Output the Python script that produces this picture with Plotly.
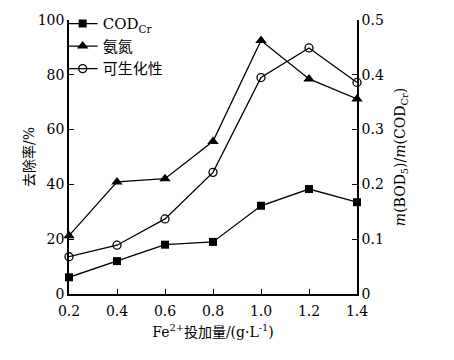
import plotly.graph_objects as go

x_dose = [0.2, 0.4, 0.6, 0.8, 1.0, 1.2, 1.4]
cod_removal = [6.1, 12.0, 18.0, 19.0, 32.2, 38.3, 33.5]
nh3_removal = [21.3, 40.9, 42.1, 55.7, 92.5, 78.5, 71.2]
biodeg_ratio = [0.068, 0.089, 0.137, 0.222, 0.395, 0.449, 0.386]

x_ticks = [0.2, 0.4, 0.6, 0.8, 1.0, 1.2, 1.4]
x_ticktext = ["0.2", "0.4", "0.6", "0.8", "1.0", "1.2", "1.4"]

serif = "DejaVu Serif, Noto Sans CJK SC, serif"
fs = 14
line_style = dict(color="black", width=1.3)

fig = go.Figure()
fig.add_trace(go.Scatter(x=x_dose, y=cod_removal, name="COD<sub>Cr</sub>",
                         mode="lines+markers", line=line_style,
                         marker=dict(symbol="square", size=8, color="black"),
                         cliponaxis=False))
fig.add_trace(go.Scatter(x=x_dose, y=nh3_removal, name="氨氮",
                         mode="lines+markers", line=line_style,
                         marker=dict(symbol="triangle-up", size=10, color="black"),
                         cliponaxis=False))
fig.add_trace(go.Scatter(x=x_dose, y=biodeg_ratio, name="可生化性", yaxis="y2",
                         mode="lines+markers", line=line_style,
                         marker=dict(symbol="circle-open", size=8, color="black",
                                     line=dict(width=1.3)),
                         cliponaxis=False))

fig.update_layout(
    width=454, height=360,
    margin=dict(l=69, r=97, t=0, b=66, autoexpand=False),
    paper_bgcolor="white", plot_bgcolor="white",
    font=dict(family=serif, size=fs, color="black"),
    showlegend=True,
    legend=dict(x=-0.022, y=0.975, xanchor="left", yanchor="top",
                bgcolor="rgba(0,0,0,0)", font=dict(size=fs + 1, family=serif),
                itemwidth=30, tracegroupgap=0),
    xaxis=dict(range=[0.2, 1.4], tickvals=x_ticks, ticktext=x_ticktext,
               showgrid=False, zeroline=False, showline=True, linecolor="black",
               linewidth=1.5, ticks="inside", ticklen=5, tickcolor="black",
               tickfont=dict(size=fs, family=serif), ticklabelstandoff=3,
               title=dict(text="Fe<sup>2+</sup>投加量/(g·L<sup>-1</sup>)",
                          font=dict(size=fs, family=serif), standoff=10)),
    yaxis=dict(range=[0, 100], dtick=20, domain=[0, 0.932], showgrid=False, zeroline=False,
               showline=True, linecolor="black", linewidth=1.5,
               ticks="inside", ticklen=5, tickcolor="black",
               tickfont=dict(size=fs, family=serif),
               title=dict(text="去除率/%", font=dict(size=fs, family=serif), standoff=0)),
    yaxis2=dict(range=[0, 0.5], dtick=0.1, overlaying="y", side="right",
                showgrid=False, zeroline=False, showline=True, linecolor="black",
                linewidth=1.5, ticks="inside", ticklen=5, tickcolor="black",
                tickfont=dict(size=fs, family=serif),
                title=dict(text="<i>m</i>(BOD<sub>5</sub>)/<i>m</i>(COD<sub>Cr</sub>)",
                           font=dict(size=fs, family=serif), standoff=12)),
)

fig.write_html("out.html", config={"displayModeBar": False},
               post_script="document.body.style.margin='0';")
